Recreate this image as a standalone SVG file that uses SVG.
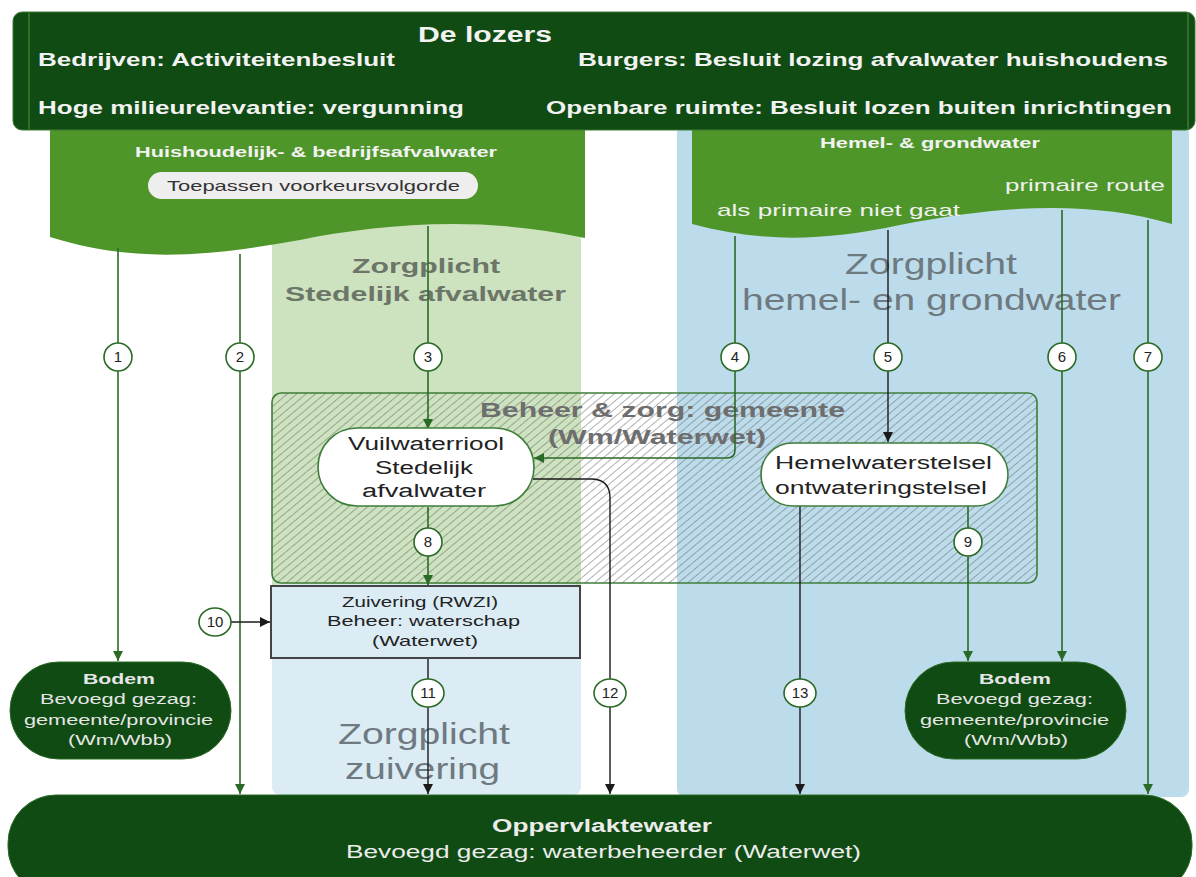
<svg xmlns="http://www.w3.org/2000/svg" width="1196" height="877" viewBox="0 0 1196 877">
<defs>
<pattern id="hatch" width="6" height="8" patternUnits="userSpaceOnUse" patternTransform="rotate(50)">
<line x1="0" y1="0" x2="0" y2="8" stroke="#6e6e6e" stroke-width="1.1"/>
</pattern>
<marker id="ag" viewBox="0 0 10 10" refX="10" refY="5" markerWidth="10" markerHeight="10" markerUnits="userSpaceOnUse" orient="auto"><path d="M0,0 L10,5 L0,10 z" fill="#2b6a26"/></marker>
<marker id="ab" viewBox="0 0 10 10" refX="10" refY="5" markerWidth="10" markerHeight="10" markerUnits="userSpaceOnUse" orient="auto"><path d="M0,0 L10,5 L0,10 z" fill="#1a1a1a"/></marker>
</defs>
<style>
text{font-family:"Liberation Sans",Arial,sans-serif}
.bw{fill:#f2f2f2;font-weight:bold}
.zg{fill:#6b7568;font-weight:bold;font-size:21px}
.zb{fill:#6f7980;font-size:30px}
.dark{fill:#222}
.nd{fill:#e6e6e6;font-size:15.5px}
.g{stroke:#2b6a26;stroke-width:1.6;fill:none}
.k{stroke:#1a1a1a;stroke-width:1.4;fill:none}
.num ellipse{fill:#fff;stroke:#2b6a26;stroke-width:1.6}
.num text{font-size:15px;fill:#222;text-anchor:middle}
</style>
<rect width="1196" height="877" fill="#fff"/>
<g id="zones">
<rect x="272" y="200" width="309" height="390" fill="#cde2bf"/>
<rect x="272" y="584" width="309" height="211" rx="8" fill="#dbecf5"/>
<rect x="677" y="125" width="512" height="672" rx="8" fill="#bcdcec"/>
<text class="zg" x="352" y="273" textLength="148" lengthAdjust="spacingAndGlyphs">Zorgplicht</text>
<text class="zg" x="285" y="301" textLength="281" lengthAdjust="spacingAndGlyphs">Stedelijk afvalwater</text>
<text class="zb" x="845" y="274" textLength="172" lengthAdjust="spacingAndGlyphs">Zorgplicht</text>
<text class="zb" x="742" y="310" textLength="379" lengthAdjust="spacingAndGlyphs">hemel- en grondwater</text>
<text class="zb" x="338" y="744" textLength="172" lengthAdjust="spacingAndGlyphs">Zorgplicht</text>
<text class="zb" x="345" y="779" textLength="155" lengthAdjust="spacingAndGlyphs">zuivering</text>
</g>
<g id="afvalwater">
<path d="M50,125 H585 V238 C480,215 380,224 300,240 C200,258 130,262 50,237 Z" fill="#4f962a"/>
<text class="bw" x="135" y="157" font-size="15" textLength="362" lengthAdjust="spacingAndGlyphs">Huishoudelijk- &amp; bedrijfsafvalwater</text>
<rect x="148" y="172" width="330" height="27" rx="13.5" fill="#eeeeee"/>
<text x="167" y="191" font-size="15" fill="#333" textLength="293" lengthAdjust="spacingAndGlyphs">Toepassen voorkeursvolgorde</text>
</g>
<g id="hemelwater">
<path d="M692,125 H1172 V224 C1090,200 1000,205 900,225 C820,242 760,242 692,224 Z" fill="#4f962a"/>
<text class="bw" x="820" y="148" font-size="15" textLength="220" lengthAdjust="spacingAndGlyphs">Hemel- &amp; grondwater</text>
<text x="1005" y="191" font-size="17" fill="#f0f0f0" textLength="160" lengthAdjust="spacingAndGlyphs">primaire route</text>
<text x="717" y="216" font-size="17" fill="#f0f0f0" textLength="243" lengthAdjust="spacingAndGlyphs">als primaire niet gaat</text>
</g>
<g id="lozers">
<rect x="13" y="12" width="1182" height="118" rx="9" fill="#104b13" stroke="#3d7a32" stroke-width="1"/>
<line x1="29" y1="13" x2="29" y2="129" stroke="#3d7a32" stroke-width="1.5"/>
<line x1="1188" y1="13" x2="1188" y2="129" stroke="#3d7a32" stroke-width="1.5"/>
<text class="bw" x="418" y="42" font-size="22" textLength="134" lengthAdjust="spacingAndGlyphs">De lozers</text>
<text class="bw" x="38" y="66" font-size="19" textLength="357" lengthAdjust="spacingAndGlyphs">Bedrijven: Activiteitenbesluit</text>
<text class="bw" x="578" y="66" font-size="19" textLength="590" lengthAdjust="spacingAndGlyphs">Burgers: Besluit lozing afvalwater huishoudens</text>
<text class="bw" x="38" y="114" font-size="19" textLength="426" lengthAdjust="spacingAndGlyphs">Hoge milieurelevantie: vergunning</text>
<text class="bw" x="546" y="114" font-size="19" textLength="626" lengthAdjust="spacingAndGlyphs">Openbare ruimte: Besluit lozen buiten inrichtingen</text>
</g>
<g id="beheer">
<text x="480" y="417" font-size="21" font-weight="bold" fill="#6e6e6e" textLength="365" lengthAdjust="spacingAndGlyphs">Beheer &amp; zorg: gemeente</text>
<text x="548" y="444" font-size="21" font-weight="bold" fill="#6e6e6e" textLength="218" lengthAdjust="spacingAndGlyphs">(Wm/Waterwet)</text>
<rect x="272" y="393" width="765" height="190" rx="9" fill="url(#hatch)" stroke="#3e7d3a" stroke-width="1.6"/>
</g>
<g id="connectors">
<line class="g" x1="118" y1="248" x2="118" y2="661" marker-end="url(#ag)"/>
<line class="g" x1="240" y1="254" x2="240" y2="794" marker-end="url(#ag)"/>
<line class="g" x1="428" y1="226" x2="428" y2="429" marker-end="url(#ag)"/>
<path class="g" d="M735,236 V450 Q735,458 727,458 H534" marker-end="url(#ag)"/>
<line class="k" x1="888" y1="230" x2="888" y2="442" marker-end="url(#ab)"/>
<line class="g" x1="1062" y1="210" x2="1062" y2="661" marker-end="url(#ag)"/>
<line class="g" x1="1148" y1="220" x2="1148" y2="794" marker-end="url(#ag)"/>
<line class="g" x1="428" y1="507" x2="428" y2="585" marker-end="url(#ag)"/>
<line class="g" x1="968" y1="506" x2="968" y2="661" marker-end="url(#ag)"/>
<line class="k" x1="230" y1="622" x2="270" y2="622" marker-end="url(#ab)"/>
<line class="k" x1="428" y1="658" x2="428" y2="794" stroke="#333" marker-end="url(#ab)"/>
<path class="k" d="M533,479 H591 Q610,479 610,498 V794" marker-end="url(#ab)"/>
<line class="k" x1="800" y1="506" x2="800" y2="794" marker-end="url(#ab)"/>
</g>
<g id="vuilwaterriool">
<rect x="318" y="428" width="216" height="78" rx="39" fill="#fff" stroke="#3e7d3a" stroke-width="1.6"/>
<text class="dark" x="348" y="450" font-size="18" textLength="156" lengthAdjust="spacingAndGlyphs">Vuilwaterriool</text>
<text class="dark" x="375" y="474" font-size="18" textLength="98" lengthAdjust="spacingAndGlyphs">Stedelijk</text>
<text class="dark" x="362" y="497" font-size="18" textLength="124" lengthAdjust="spacingAndGlyphs">afvalwater</text>
</g>
<g id="hemelwaterstelsel">
<rect x="761" y="443" width="247" height="63" rx="31.5" fill="#fff" stroke="#3e7d3a" stroke-width="1.6"/>
<text class="dark" x="775" y="469" font-size="18" textLength="217" lengthAdjust="spacingAndGlyphs">Hemelwaterstelsel</text>
<text class="dark" x="775" y="494" font-size="18" textLength="212" lengthAdjust="spacingAndGlyphs">ontwateringstelsel</text>
</g>
<g id="zuivering">
<rect x="271" y="586" width="309" height="72" fill="#dbecf5" stroke="#444" stroke-width="2"/>
<text class="dark" x="342" y="607" font-size="15" textLength="156" lengthAdjust="spacingAndGlyphs">Zuivering (RWZI)</text>
<text class="dark" x="327" y="626" font-size="15" textLength="193" lengthAdjust="spacingAndGlyphs">Beheer: waterschap</text>
<text class="dark" x="372" y="646" font-size="15" textLength="106" lengthAdjust="spacingAndGlyphs">(Waterwet)</text>
</g>
<g id="bodem-links">
<rect x="10" y="662" width="221" height="97" rx="48.5" fill="#104b13" stroke="#2b6a26"/>
<text class="nd" x="83" y="684" font-weight="bold" textLength="72" lengthAdjust="spacingAndGlyphs">Bodem</text>
<text class="nd" x="40" y="704" textLength="157" lengthAdjust="spacingAndGlyphs">Bevoegd gezag:</text>
<text class="nd" x="24" y="725" textLength="189" lengthAdjust="spacingAndGlyphs">gemeente/provincie</text>
<text class="nd" x="68" y="745" textLength="104" lengthAdjust="spacingAndGlyphs">(Wm/Wbb)</text>
</g>
<g id="bodem-rechts">
<rect x="905" y="662" width="221" height="97" rx="48.5" fill="#104b13" stroke="#2b6a26"/>
<text class="nd" x="979" y="684" font-weight="bold" textLength="72" lengthAdjust="spacingAndGlyphs">Bodem</text>
<text class="nd" x="936" y="704" textLength="157" lengthAdjust="spacingAndGlyphs">Bevoegd gezag:</text>
<text class="nd" x="920" y="725" textLength="189" lengthAdjust="spacingAndGlyphs">gemeente/provincie</text>
<text class="nd" x="964" y="745" textLength="104" lengthAdjust="spacingAndGlyphs">(Wm/Wbb)</text>
</g>
<g id="oppervlaktewater">
<rect x="8" y="795" width="1184" height="100" rx="48" fill="#104b13" stroke="#2b6a26"/>
<text x="492" y="832" font-size="18" font-weight="bold" fill="#ececec" textLength="220" lengthAdjust="spacingAndGlyphs">Oppervlaktewater</text>
<text x="346" y="858" font-size="18" fill="#ececec" textLength="515" lengthAdjust="spacingAndGlyphs">Bevoegd gezag: waterbeheerder (Waterwet)</text>
</g>
<g id="labels" class="num">
<g><ellipse cx="118" cy="357" rx="14" ry="14"/><text x="118" y="362">1</text></g>
<g><ellipse cx="240" cy="357" rx="14" ry="14"/><text x="240" y="362">2</text></g>
<g><ellipse cx="428" cy="357" rx="14" ry="14"/><text x="428" y="362">3</text></g>
<g><ellipse cx="735" cy="357" rx="14" ry="14"/><text x="735" y="362">4</text></g>
<g><ellipse cx="888" cy="357" rx="14" ry="14"/><text x="888" y="362">5</text></g>
<g><ellipse cx="1062" cy="357" rx="14" ry="14"/><text x="1062" y="362">6</text></g>
<g><ellipse cx="1148" cy="357" rx="14" ry="14"/><text x="1148" y="362">7</text></g>
<g><ellipse cx="428" cy="542" rx="14" ry="14"/><text x="428" y="547">8</text></g>
<g><ellipse cx="968" cy="542" rx="14" ry="14"/><text x="968" y="547">9</text></g>
<g><ellipse cx="215" cy="622" rx="16" ry="14"/><text x="215" y="627">10</text></g>
<g><ellipse cx="428" cy="693" rx="16" ry="14"/><text x="428" y="698">11</text></g>
<g><ellipse cx="610" cy="693" rx="16" ry="14"/><text x="610" y="698">12</text></g>
<g><ellipse cx="800" cy="693" rx="16" ry="14"/><text x="800" y="698">13</text></g>
</g>
</svg>
